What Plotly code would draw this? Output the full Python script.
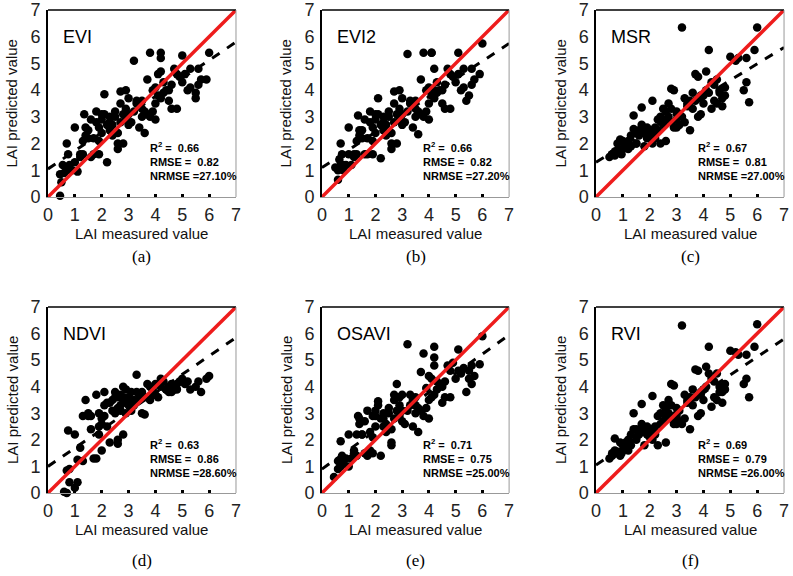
import plotly.graph_objects as go

# ---- data (LAI measured vs predicted) ----
names = ['EVI', 'EVI2', 'MSR', 'NDVI', 'OSAVI', 'RVI']
captions = ['(a)', '(b)', '(c)', '(d)', '(e)', '(f)']
r2 = ['0.66', '0.66', '0.67', '0.63', '0.71', '0.69']
rmse = ['0.82', '0.82', '0.81', '0.86', '0.75', '0.79']
nrmse = ['27.10%', '27.20%', '27.00%', '28.60%', '25.00%', '26.00%']
fit_intercept = [1.05, 1.1, 1.3, 1.0, 0.9, 1.05]
fit_end = [5.8, 5.75, 5.6, 5.85, 5.95, 5.8]   # fitted value at x = 7

evi_x = [0.45, 0.5, 0.45, 0.6, 0.55, 0.7, 0.75, 0.7, 0.9, 1.0, 1.1, 1.0, 1.2, 1.3, 1.3, 1.35, 1.4, 1.4,
         1.5, 1.6, 1.6, 1.7, 1.7, 1.8, 1.8, 1.9, 1.9, 2.0, 2.0, 2.1, 2.1, 2.2, 2.2, 2.3, 2.3, 2.4, 2.5,
         2.5, 2.6, 2.6, 2.6, 2.7, 2.7, 2.8, 2.8, 2.9, 2.9, 3.0, 3.0, 3.1, 3.2, 3.2, 3.3, 3.3, 3.4, 3.5,
         3.5, 3.6, 3.7, 3.7, 3.8, 3.8, 3.9, 3.9, 4.0, 4.0, 4.0, 4.1, 4.1, 4.2, 4.2, 4.2, 4.3, 4.3, 4.4,
         4.5, 4.6, 4.6, 4.7, 4.8, 4.9, 5.0, 5.0, 5.1, 5.2, 5.3, 5.3, 5.5, 5.5, 5.6, 5.6, 5.7, 5.9, 6.0,
         4.5, 3.5, 2.9, 2.4, 1.9, 1.5, 2.3, 2.7, 3.0, 3.6, 4.2, 1.2, 0.8, 2.0, 3.4, 4.8]
evi_y = [0.05, 0.55, 0.85, 0.9, 1.2, 1.0, 1.6, 2.0, 1.0, 1.3, 0.95, 2.6, 1.5, 1.6, 2.1, 3.1, 2.6, 2.3,
         2.5, 2.9, 1.5, 1.6, 2.2, 3.2, 2.8, 1.6, 2.6, 2.4, 2.9, 3.85, 3.1, 2.7, 1.3, 2.5, 2.8, 2.7, 3.2,
         3.0, 1.8, 2.0, 2.4, 3.95, 3.5, 2.0, 3.1, 2.9, 4.0, 3.7, 2.7, 2.8, 5.1, 3.2, 3.5, 3.6, 2.6, 3.0,
         3.3, 2.4, 3.1, 4.4, 3.0, 5.4, 3.2, 4.0, 2.9, 3.5, 4.1, 4.6, 3.8, 5.4, 5.2, 4.7, 4.3, 3.9, 4.0,
         3.6, 4.2, 3.3, 4.8, 3.3, 4.5, 4.3, 5.3, 4.6, 4.0, 4.1, 4.8, 3.9, 3.7, 4.2, 4.8, 4.4, 4.4, 5.4,
         4.0, 3.6, 3.3, 2.3, 2.1, 2.2, 3.0, 2.8, 3.1, 3.2, 3.7, 1.6, 1.2, 3.1, 3.5, 4.6]

evi2_x = [0.6, 0.5, 0.6, 0.7, 0.65, 0.8, 0.75, 0.7, 0.9, 1.0, 1.1, 1.0, 1.2, 1.3, 1.3, 1.35, 1.4, 1.4,
          1.5, 1.6, 1.6, 1.7, 1.7, 1.8, 1.8, 1.9, 1.9, 2.0, 2.0, 2.1, 2.1, 2.2, 2.2, 2.3, 2.3, 2.4, 2.5,
          2.5, 2.6, 2.6, 2.6, 2.7, 2.7, 2.8, 2.8, 2.9, 2.9, 3.0, 3.0, 3.1, 3.2, 3.2, 3.3, 3.3, 3.4, 3.5,
          3.5, 3.6, 3.7, 3.7, 3.8, 3.8, 3.9, 3.9, 4.0, 4.0, 4.0, 4.1, 4.1, 4.1, 4.2, 4.2, 4.3, 4.3, 4.4,
          4.5, 4.6, 4.6, 4.7, 4.8, 4.9, 5.0, 5.1, 5.1, 5.2, 5.3, 5.3, 5.4, 5.5, 5.6, 5.6, 5.7, 5.9, 6.0,
          4.5, 3.5, 2.9, 2.4, 1.9, 1.5, 2.3, 2.7, 3.0, 3.6, 4.2, 1.2, 0.8, 2.0, 3.4, 4.8]
evi2_y = [0.65, 1.1, 1.0, 1.2, 1.4, 1.0, 1.6, 2.0, 1.2, 1.6, 1.2, 2.6, 1.5, 1.6, 2.1, 3.05, 2.5, 2.3,
          2.5, 2.9, 1.6, 1.6, 2.2, 3.2, 2.8, 1.6, 2.6, 2.4, 2.9, 3.7, 3.1, 2.7, 1.45, 2.5, 2.8, 2.7, 3.2,
          3.0, 1.8, 2.0, 2.4, 3.95, 3.5, 2.0, 3.1, 2.9, 4.0, 3.7, 2.7, 2.8, 5.35, 3.2, 3.5, 3.6, 2.6, 3.0,
          3.3, 2.35, 3.1, 4.4, 3.0, 5.4, 3.2, 4.0, 2.9, 3.5, 4.1, 5.4, 3.8, 5.4, 4.8, 4.0, 4.3, 3.9, 4.0,
          3.5, 4.2, 3.3, 4.8, 3.3, 4.5, 4.3, 5.4, 4.6, 4.0, 4.1, 4.8, 3.6, 3.8, 4.2, 4.8, 4.4, 4.6, 5.75,
          4.0, 3.6, 3.3, 2.3, 2.1, 2.2, 3.0, 2.8, 3.1, 3.2, 3.7, 1.6, 1.2, 3.1, 3.5, 4.6]

msr_x = [0.5, 0.6, 0.7, 0.7, 0.8, 0.9, 0.9, 1.0, 1.0, 1.1, 1.2, 1.2, 1.3, 1.4, 1.4, 1.5, 1.5, 1.6, 1.6,
         1.7, 1.8, 1.8, 1.9, 1.9, 2.0, 2.0, 2.1, 2.1, 2.2, 2.2, 2.3, 2.3, 2.4, 2.4, 2.5, 2.5, 2.6, 2.6,
         2.7, 2.7, 2.8, 2.8, 2.9, 2.9, 3.0, 3.0, 3.1, 3.1, 3.2, 3.2, 3.3, 3.3, 3.4, 3.5, 3.5, 3.6, 3.7,
         3.7, 3.8, 3.8, 3.9, 3.9, 4.0, 4.0, 4.1, 4.1, 4.2, 4.2, 4.3, 4.3, 4.4, 4.5, 4.5, 4.6, 4.7, 4.7,
         4.8, 5.0, 5.2, 5.3, 5.5, 5.6, 5.6, 5.7, 5.9, 6.0, 0.6, 0.8, 1.1, 1.3, 1.7, 2.0, 2.6, 3.0, 3.4,
         3.9, 4.4, 4.6, 2.2, 1.5, 2.8, 3.6, 4.8, 0.95]
msr_y = [1.5, 1.6, 1.7, 1.55, 2.0, 1.7, 2.15, 1.8, 2.1, 1.9, 1.8, 2.1, 1.9, 3.05, 2.55, 2.4, 2.0, 2.3,
         2.5, 3.35, 1.9, 2.4, 2.6, 2.2, 2.5, 2.3, 3.6, 2.0, 2.6, 2.4, 2.9, 2.5, 3.0, 2.0, 2.7, 3.3, 2.9,
         2.1, 3.5, 3.0, 4.05, 2.8, 4.0, 2.6, 3.2, 2.9, 3.1, 2.7, 6.35, 3.0, 3.7, 2.8, 3.5, 3.6, 2.5, 3.3,
         4.6, 3.6, 4.5, 3.0, 3.1, 3.7, 3.8, 3.5, 4.7, 4.0, 5.5, 3.9, 4.3, 3.3, 3.6, 4.4, 3.5, 4.0, 3.4,
         3.7, 3.8, 5.25, 5.1, 5.2, 4.0, 4.3, 5.2, 3.55, 5.5, 6.35, 1.6, 1.75, 2.0, 2.3, 2.7, 2.4, 3.2,
         2.6, 3.4, 3.8, 4.2, 3.9, 2.2, 2.0, 3.3, 3.9, 4.1, 1.6]

ndvi_x = [0.6, 0.7, 0.75, 0.8, 1.0, 1.1, 0.7, 0.8, 0.75, 1.0, 1.1, 1.3, 1.2, 1.4, 1.5, 1.5, 1.6, 1.7,
          1.8, 1.8, 1.9, 1.9, 1.9, 2.0, 2.0, 2.1, 2.1, 2.2, 2.2, 2.3, 2.4, 2.5, 2.5, 2.6, 2.6, 2.6, 2.7,
          2.7, 2.8, 2.8, 2.8, 2.9, 2.9, 3.0, 3.0, 3.1, 3.1, 3.2, 3.3, 3.3, 3.4, 3.5, 3.6, 3.6, 3.7, 3.8,
          3.8, 3.9, 4.0, 4.0, 4.1, 4.2, 4.3, 4.4, 4.5, 4.5, 4.6, 4.7, 4.8, 4.9, 5.0, 5.2, 5.3, 5.5, 5.6,
          5.7, 5.9, 6.0, 2.3, 2.5, 2.7, 2.9, 3.1, 3.5, 4.2, 4.6, 4.8, 1.6, 2.1, 2.4, 2.6, 3.0, 3.2, 3.9,
          4.4, 5.1, 1.3, 2.0, 2.8, 3.4]
ndvi_y = [0.05, 0.0, -0.05, 0.4, 0.2, 0.4, 0.85, 0.9, 2.35, 2.2, 1.25, 1.2, 1.7, 3.5, 3.0, 2.9, 2.9,
          1.3, 1.3, 3.7, 2.5, 2.2, 3.0, 1.6, 2.6, 2.9, 3.8, 2.5, 3.4, 1.9, 3.5, 3.6, 3.0, 3.2, 2.0, 1.85,
          3.7, 3.3, 2.2, 4.0, 3.5, 3.0, 3.9, 3.6, 3.4, 3.1, 3.8, 3.3, 4.45, 3.8, 3.5, 3.0, 2.95, 3.6,
          4.1, 3.5, 4.0, 3.7, 4.1, 3.7, 3.6, 4.3, 4.2, 3.9, 4.0, 3.8, 4.1, 3.9, 4.1, 4.2, 4.3, 4.2, 3.9,
          4.0, 4.2, 3.8, 4.3, 4.4, 3.4, 3.8, 3.1, 3.4, 3.2, 3.8, 4.0, 3.8, 3.9, 2.4, 3.3, 3.1, 3.6, 3.3,
          3.5, 3.9, 3.9, 4.1, 2.9, 2.8, 3.6, 3.6]

osavi_x = [0.45, 0.6, 0.6, 0.7, 0.7, 0.75, 0.8, 0.9, 1.0, 1.0, 1.1, 1.2, 1.3, 1.3, 1.35, 1.4, 1.4,
           1.5, 1.6, 1.6, 1.7, 1.7, 1.8, 1.8, 1.9, 1.9, 2.0, 2.0, 2.1, 2.1, 2.2, 2.2, 2.3, 2.3, 2.4, 2.5,
           2.5, 2.6, 2.6, 2.6, 2.7, 2.7, 2.8, 2.8, 2.9, 2.9, 3.0, 3.0, 3.1, 3.2, 3.2, 3.3, 3.3, 3.4, 3.5,
           3.5, 3.6, 3.7, 3.7, 3.8, 3.8, 3.9, 3.9, 4.0, 4.0, 4.0, 4.1, 4.1, 4.2, 4.2, 4.2, 4.3, 4.3, 4.4,
           4.5, 4.6, 4.6, 4.7, 4.8, 4.9, 5.0, 5.1, 5.1, 5.2, 5.3, 5.4, 5.5, 5.5, 5.6, 5.6, 5.7, 5.9, 6.0,
           4.5, 3.5, 2.9, 2.4, 1.9, 1.5, 2.3, 2.7, 3.0, 3.6, 4.2, 1.2, 0.8, 2.0, 3.4, 4.8]
osavi_y = [0.6, 0.9, 1.2, 1.0, 1.95, 1.4, 1.1, 1.3, 1.0, 2.2, 1.3, 1.5, 1.4, 2.2, 2.9, 2.6, 2.8, 2.2,
           2.7, 1.5, 1.4, 3.1, 1.6, 2.3, 1.5, 2.9, 2.5, 2.9, 3.45, 3.3, 2.8, 1.4, 2.5, 2.8, 2.6, 3.2, 3.0,
           1.8, 1.9, 2.4, 3.7, 3.5, 4.1, 3.1, 2.9, 3.6, 3.7, 2.7, 2.6, 5.6, 3.1, 3.3, 3.7, 2.5, 3.0, 3.3,
           2.3, 3.1, 4.55, 2.9, 5.25, 3.2, 3.95, 2.8, 3.5, 4.4, 4.3, 3.6, 5.5, 5.1, 4.8, 4.2, 3.9, 4.1, 3.4,
           4.2, 3.6, 4.8, 3.6, 4.9, 4.3, 5.4, 4.6, 4.5, 4.7, 3.8, 4.6, 4.3, 4.1, 4.8, 4.4, 4.85, 5.9, 4.0,
           3.6, 3.3, 2.3, 2.1, 2.2, 3.0, 2.8, 3.1, 3.2, 3.7, 1.6, 1.2, 3.1, 3.5, 4.6]

rvi_x = [0.5, 0.6, 0.7, 0.7, 0.8, 0.9, 0.9, 1.0, 1.0, 1.1, 1.2, 1.2, 1.3, 1.4, 1.4, 1.5, 1.5, 1.6, 1.6,
         1.7, 1.8, 1.8, 1.9, 1.9, 2.0, 2.0, 2.1, 2.1, 2.2, 2.2, 2.3, 2.3, 2.4, 2.4, 2.5, 2.5, 2.6, 2.6,
         2.7, 2.7, 2.8, 2.8, 2.9, 2.9, 3.0, 3.0, 3.1, 3.1, 3.2, 3.2, 3.3, 3.3, 3.4, 3.5, 3.5, 3.6, 3.7,
         3.7, 3.8, 3.8, 3.9, 3.9, 4.0, 4.0, 4.1, 4.1, 4.2, 4.2, 4.3, 4.3, 4.4, 4.5, 4.5, 4.6, 4.7, 4.7,
         4.8, 5.0, 5.2, 5.3, 5.5, 5.6, 5.6, 5.7, 5.9, 6.0, 0.6, 0.8, 1.1, 1.3, 1.7, 2.0, 2.6, 3.0, 3.4,
         3.9, 4.4, 4.6, 2.2, 1.5, 2.8, 3.6, 4.8, 0.95]
rvi_y = [1.3, 1.4, 1.6, 2.05, 1.5, 1.4, 1.9, 1.6, 1.8, 1.7, 1.6, 2.0, 1.8, 3.0, 2.4, 2.4, 2.1, 2.2, 2.3,
         3.35, 1.8, 2.4, 2.5, 2.2, 2.4, 2.1, 3.65, 2.0, 2.5, 2.3, 2.9, 1.8, 3.0, 2.6, 2.7, 3.3, 2.9, 1.9,
         3.5, 3.0, 4.1, 2.8, 4.05, 2.6, 3.2, 2.9, 3.1, 2.7, 6.3, 2.6, 3.7, 2.8, 3.5, 3.6, 2.4, 3.3, 4.65,
         3.6, 4.6, 2.9, 3.0, 3.8, 3.9, 3.5, 4.75, 4.0, 5.5, 4.5, 4.3, 3.25, 3.6, 4.5, 3.5, 4.0, 3.4, 3.8,
         3.9, 5.35, 5.3, 5.2, 4.1, 4.3, 5.2, 3.6, 5.5, 6.35, 1.5, 1.55, 1.9, 2.2, 2.6, 2.4, 3.2, 2.6, 3.4,
         3.7, 4.2, 3.8, 2.2, 2.0, 3.3, 3.9, 4.1, 1.5]

xs = [evi_x, evi2_x, msr_x, ndvi_x, osavi_x, rvi_x]
ys = [evi_y, evi2_y, msr_y, ndvi_y, osavi_y, rvi_y]

# panel layout (paper fractions)
col_dom = [[0.0605, 0.2976], [0.406, 0.642], [0.7516, 0.9887]]
row_dom = [[0.658, 0.9826], [0.1441, 0.467]]
caption_shift = [-60, -68]

FONT = 'Liberation Sans'
fig = go.Figure()
for i in range(6):
    r, c = divmod(i, 3)
    ax = '' if i == 0 else str(i + 1)
    xa, ya = 'x' + ax, 'y' + ax

    fig.add_trace(go.Scatter(x=xs[i], y=ys[i], mode='markers', xaxis=xa, yaxis=ya,
                             marker=dict(color='black', size=8.5), showlegend=False, cliponaxis=False))
    fig.add_trace(go.Scatter(x=[0, 7], y=[fit_intercept[i], fit_end[i]], mode='lines', xaxis=xa, yaxis=ya,
                             line=dict(color='black', width=3, dash='dash'), showlegend=False))
    fig.add_trace(go.Scatter(x=[0, 7], y=[0, 7], mode='lines', xaxis=xa, yaxis=ya,
                             line=dict(color='#ee1c1c', width=3.5), showlegend=False))

    fig.update_layout({
        'xaxis' + ax: dict(domain=col_dom[c], anchor=ya, range=[0, 7], dtick=1, showgrid=False,
                           zeroline=False, showline=True, linecolor='#999', linewidth=1,
                           ticks='inside', ticklen=3, tickwidth=3, automargin=False,
                           tickcolor='black', ticklabelstandoff=1,
                           tickfont=dict(family=FONT, size=18, color='#222')),
        'yaxis' + ax: dict(domain=row_dom[r], anchor=xa, range=[0, 7], dtick=1, showgrid=False,
                           zeroline=False, showline=True, linecolor='black', linewidth=1.5,
                           ticks='', automargin=False, ticklabelstandoff=2,
                           tickfont=dict(family=FONT, size=18, color='#222')),
    })

    # top and right border
    fig.add_shape(type='line', xref=xa + ' domain', yref=ya + ' domain', x0=0, x1=1, y0=1, y1=1,
                  line=dict(color='black', width=1.5))
    fig.add_shape(type='line', xref=xa + ' domain', yref=ya + ' domain', x0=1, x1=1, y0=0, y1=1,
                  line=dict(color='#999', width=1))

    fig.add_annotation(xref=xa, yref=ya, x=0.48, y=6.0, text=names[i], showarrow=False,
                       xanchor='left', font=dict(family=FONT, size=18, color='black'))
    stats = ('R<sup>2</sup> =  ' + r2[i] + '<br>RMSE =  ' + rmse[i] + '<br>NRMSE =' + nrmse[i])
    fig.add_annotation(xref=xa, yref=ya, x=3.72, y=2.2, text='<b>' + stats + '</b>', showarrow=False,
                       xanchor='left', yanchor='top', align='left',
                       font=dict(family=FONT, size=11, color='black'))

    fig.add_annotation(xref=xa + ' domain', yref=ya + ' domain', x=0.5, y=0, yshift=-37,
                       text='LAI measured value', showarrow=False, yanchor='middle',
                       font=dict(family=FONT, size=15, color='#111'))
    fig.add_annotation(xref=xa + ' domain', yref=ya + ' domain', x=0, y=0.5, xshift=-36,
                       text='LAI predicted value', textangle=-90, showarrow=False, xanchor='center',
                       font=dict(family=FONT, size=15, color='#111'))
    fig.add_annotation(xref=xa + ' domain', yref=ya + ' domain', x=0.5, y=0, yshift=caption_shift[r],
                       text=captions[i], showarrow=False, yanchor='middle',
                       font=dict(family='Liberation Serif', size=17, color='black'))

fig.update_layout(width=793, height=576, margin=dict(l=0, r=0, t=0, b=0),
                  paper_bgcolor='white', plot_bgcolor='white')
# drop the browser's default 8px body margin so the figure sits at the window's corner
fig.write_html('out.html', config={'displayModeBar': False},
               post_script="document.body.style.margin='0';")
